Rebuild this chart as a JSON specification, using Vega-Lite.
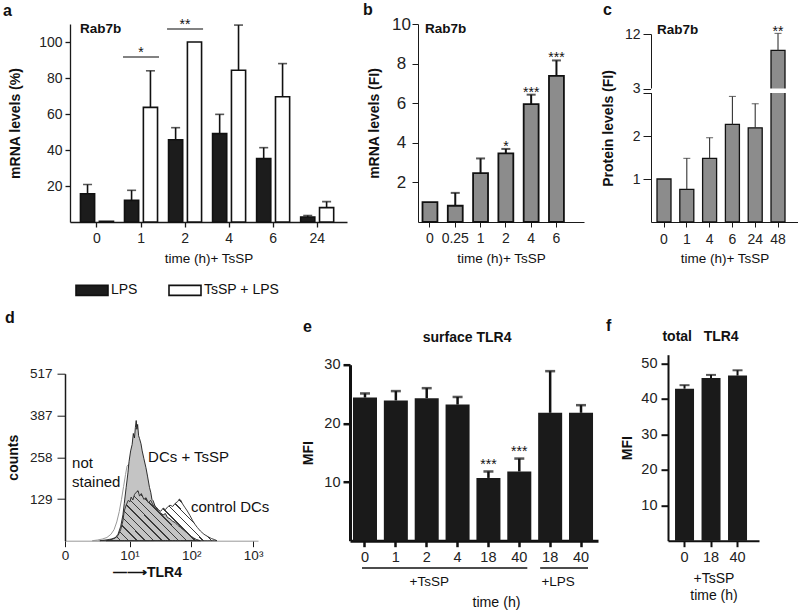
{
"$schema": "https://vega.github.io/schema/vega-lite/v6.json",
"padding": {"left": 3, "top": 2, "right": 0, "bottom": 0},
"config": {
  "font": "Liberation Sans",
  "view": {"stroke": null},
  "axis": {"grid": false, "domainColor": "#1a1a1a", "tickColor": "#1a1a1a", "labelColor": "#222222", "titleColor": "#111111", "labelAngle": 0, "labelOverlap": false, "labelFlush": false, "labelBound": false},
  "title": {"anchor": "start", "frame": "group", "baseline": "alphabetic", "fontSize": 16, "fontWeight": "bold", "color": "#111111"}
},
"datasets": {
  "a": [
    {"time": "0", "series": "LPS", "value": 15.7, "err": 20.8},
    {"time": "0", "series": "TsSP + LPS", "value": 0.4, "err": null},
    {"time": "1", "series": "LPS", "value": 12.0, "err": 17.6},
    {"time": "1", "series": "TsSP + LPS", "value": 63.7, "err": 84},
    {"time": "2", "series": "LPS", "value": 45.7, "err": 52.4},
    {"time": "2", "series": "TsSP + LPS", "value": 100, "err": null},
    {"time": "4", "series": "LPS", "value": 49.1, "err": 59.8},
    {"time": "4", "series": "TsSP + LPS", "value": 84.3, "err": 109.4},
    {"time": "6", "series": "LPS", "value": 35.2, "err": 41.3},
    {"time": "6", "series": "TsSP + LPS", "value": 69.6, "err": 88},
    {"time": "24", "series": "LPS", "value": 2.8, "err": 3.6},
    {"time": "24", "series": "TsSP + LPS", "value": 8.0, "err": 11.3}
  ],
  "aSig": [
    {"time": "1", "level": 91.7, "star": "*"},
    {"time": "2", "level": 107.2, "star": "**"}
  ],
  "b": [
    {"time": "0", "value": 1.0, "err": null, "star": ""},
    {"time": "0.25", "value": 0.82, "err": 1.47, "star": ""},
    {"time": "1", "value": 2.47, "err": 3.21, "star": ""},
    {"time": "2", "value": 3.47, "err": 3.69, "star": "*"},
    {"time": "4", "value": 5.95, "err": 6.43, "star": "***"},
    {"time": "6", "value": 7.38, "err": 8.16, "star": "***"}
  ],
  "c": [
    {"time": "0", "value": 1.0, "err": null, "star": ""},
    {"time": "1", "value": 0.76, "err": 1.48, "star": ""},
    {"time": "4", "value": 1.48, "err": 1.96, "star": ""},
    {"time": "6", "value": 2.27, "err": 2.92, "star": ""},
    {"time": "24", "value": 2.19, "err": 2.75, "star": ""},
    {"time": "48", "value": 9.3, "err": 12.1, "star": "**"}
  ],
  "d": [
    {"sample": "not stained", "tlr4": 2.5, "count": 0},
    {"sample": "not stained", "tlr4": 3, "count": 2},
    {"sample": "not stained", "tlr4": 3.6, "count": 5},
    {"sample": "not stained", "tlr4": 4.3, "count": 10},
    {"sample": "not stained", "tlr4": 5, "count": 20},
    {"sample": "not stained", "tlr4": 5.6, "count": 34},
    {"sample": "not stained", "tlr4": 6.2, "count": 58},
    {"sample": "not stained", "tlr4": 6.8, "count": 90},
    {"sample": "not stained", "tlr4": 7.4, "count": 128},
    {"sample": "not stained", "tlr4": 8, "count": 168},
    {"sample": "not stained", "tlr4": 8.6, "count": 205},
    {"sample": "not stained", "tlr4": 9.1, "count": 231},
    {"sample": "not stained", "tlr4": 9.6, "count": 236},
    {"sample": "not stained", "tlr4": 10.2, "count": 212},
    {"sample": "not stained", "tlr4": 11, "count": 168},
    {"sample": "not stained", "tlr4": 12, "count": 118},
    {"sample": "not stained", "tlr4": 13.5, "count": 70},
    {"sample": "not stained", "tlr4": 15, "count": 40},
    {"sample": "not stained", "tlr4": 17, "count": 20},
    {"sample": "not stained", "tlr4": 20, "count": 8},
    {"sample": "not stained", "tlr4": 24, "count": 0},
    {"sample": "DCs + TsSP", "tlr4": 4.2, "count": 0},
    {"sample": "DCs + TsSP", "tlr4": 5, "count": 3},
    {"sample": "DCs + TsSP", "tlr4": 5.8, "count": 8},
    {"sample": "DCs + TsSP", "tlr4": 6.5, "count": 20},
    {"sample": "DCs + TsSP", "tlr4": 7.2, "count": 45},
    {"sample": "DCs + TsSP", "tlr4": 7.8, "count": 80},
    {"sample": "DCs + TsSP", "tlr4": 8.2, "count": 115},
    {"sample": "DCs + TsSP", "tlr4": 8.8, "count": 165},
    {"sample": "DCs + TsSP", "tlr4": 9.4, "count": 210},
    {"sample": "DCs + TsSP", "tlr4": 9.8, "count": 245},
    {"sample": "DCs + TsSP", "tlr4": 10.4, "count": 278},
    {"sample": "DCs + TsSP", "tlr4": 11, "count": 298},
    {"sample": "DCs + TsSP", "tlr4": 11.5, "count": 332},
    {"sample": "DCs + TsSP", "tlr4": 12, "count": 318},
    {"sample": "DCs + TsSP", "tlr4": 12.4, "count": 350},
    {"sample": "DCs + TsSP", "tlr4": 12.8, "count": 372},
    {"sample": "DCs + TsSP", "tlr4": 13.1, "count": 345},
    {"sample": "DCs + TsSP", "tlr4": 13.5, "count": 360},
    {"sample": "DCs + TsSP", "tlr4": 14, "count": 325},
    {"sample": "DCs + TsSP", "tlr4": 14.5, "count": 316},
    {"sample": "DCs + TsSP", "tlr4": 15.3, "count": 300},
    {"sample": "DCs + TsSP", "tlr4": 16, "count": 278},
    {"sample": "DCs + TsSP", "tlr4": 17, "count": 255},
    {"sample": "DCs + TsSP", "tlr4": 18.4, "count": 226},
    {"sample": "DCs + TsSP", "tlr4": 19.5, "count": 200},
    {"sample": "DCs + TsSP", "tlr4": 21, "count": 165},
    {"sample": "DCs + TsSP", "tlr4": 22, "count": 150},
    {"sample": "DCs + TsSP", "tlr4": 23, "count": 128},
    {"sample": "DCs + TsSP", "tlr4": 24, "count": 124},
    {"sample": "DCs + TsSP", "tlr4": 26, "count": 106},
    {"sample": "DCs + TsSP", "tlr4": 28.5, "count": 95},
    {"sample": "DCs + TsSP", "tlr4": 31, "count": 87},
    {"sample": "DCs + TsSP", "tlr4": 35, "count": 80},
    {"sample": "DCs + TsSP", "tlr4": 38, "count": 84},
    {"sample": "DCs + TsSP", "tlr4": 41, "count": 72},
    {"sample": "DCs + TsSP", "tlr4": 45, "count": 68},
    {"sample": "DCs + TsSP", "tlr4": 50, "count": 60},
    {"sample": "DCs + TsSP", "tlr4": 55, "count": 56},
    {"sample": "DCs + TsSP", "tlr4": 60, "count": 48},
    {"sample": "DCs + TsSP", "tlr4": 67, "count": 41},
    {"sample": "DCs + TsSP", "tlr4": 75, "count": 33},
    {"sample": "DCs + TsSP", "tlr4": 85, "count": 24},
    {"sample": "DCs + TsSP", "tlr4": 95, "count": 16},
    {"sample": "DCs + TsSP", "tlr4": 108, "count": 9},
    {"sample": "DCs + TsSP", "tlr4": 120, "count": 4},
    {"sample": "DCs + TsSP", "tlr4": 140, "count": 0},
    {"sample": "control DCs", "tlr4": 3.3, "count": 0},
    {"sample": "control DCs", "tlr4": 4, "count": 2},
    {"sample": "control DCs", "tlr4": 5, "count": 5},
    {"sample": "control DCs", "tlr4": 6, "count": 10},
    {"sample": "control DCs", "tlr4": 6.5, "count": 16},
    {"sample": "control DCs", "tlr4": 7.2, "count": 35},
    {"sample": "control DCs", "tlr4": 7.8, "count": 62},
    {"sample": "control DCs", "tlr4": 8.2, "count": 92},
    {"sample": "control DCs", "tlr4": 8.8, "count": 110},
    {"sample": "control DCs", "tlr4": 9.5, "count": 125},
    {"sample": "control DCs", "tlr4": 10.1, "count": 120},
    {"sample": "control DCs", "tlr4": 10.6, "count": 135},
    {"sample": "control DCs", "tlr4": 11.3, "count": 126},
    {"sample": "control DCs", "tlr4": 12, "count": 143},
    {"sample": "control DCs", "tlr4": 12.8, "count": 150},
    {"sample": "control DCs", "tlr4": 13.7, "count": 155},
    {"sample": "control DCs", "tlr4": 14.5, "count": 138},
    {"sample": "control DCs", "tlr4": 15.5, "count": 146},
    {"sample": "control DCs", "tlr4": 17, "count": 128},
    {"sample": "control DCs", "tlr4": 18.5, "count": 133},
    {"sample": "control DCs", "tlr4": 20, "count": 118},
    {"sample": "control DCs", "tlr4": 22, "count": 125},
    {"sample": "control DCs", "tlr4": 24, "count": 110},
    {"sample": "control DCs", "tlr4": 27, "count": 104},
    {"sample": "control DCs", "tlr4": 30, "count": 94},
    {"sample": "control DCs", "tlr4": 32, "count": 91},
    {"sample": "control DCs", "tlr4": 35, "count": 101},
    {"sample": "control DCs", "tlr4": 38, "count": 96},
    {"sample": "control DCs", "tlr4": 41, "count": 104},
    {"sample": "control DCs", "tlr4": 45, "count": 110},
    {"sample": "control DCs", "tlr4": 50, "count": 106},
    {"sample": "control DCs", "tlr4": 55, "count": 116},
    {"sample": "control DCs", "tlr4": 60, "count": 121},
    {"sample": "control DCs", "tlr4": 64, "count": 129},
    {"sample": "control DCs", "tlr4": 67, "count": 126},
    {"sample": "control DCs", "tlr4": 72, "count": 114},
    {"sample": "control DCs", "tlr4": 78, "count": 104},
    {"sample": "control DCs", "tlr4": 86, "count": 92},
    {"sample": "control DCs", "tlr4": 95, "count": 78},
    {"sample": "control DCs", "tlr4": 105, "count": 62},
    {"sample": "control DCs", "tlr4": 115, "count": 50},
    {"sample": "control DCs", "tlr4": 125, "count": 41},
    {"sample": "control DCs", "tlr4": 140, "count": 30},
    {"sample": "control DCs", "tlr4": 160, "count": 20},
    {"sample": "control DCs", "tlr4": 180, "count": 14},
    {"sample": "control DCs", "tlr4": 210, "count": 7},
    {"sample": "control DCs", "tlr4": 240, "count": 3},
    {"sample": "control DCs", "tlr4": 260, "count": 0}
  ],
  "e": [
    {"id": "T0", "value": 24.4, "err": 25.1, "star": ""},
    {"id": "T1", "value": 23.9, "err": 25.5, "star": ""},
    {"id": "T2", "value": 24.3, "err": 26.0, "star": ""},
    {"id": "T4", "value": 23.2, "err": 24.5, "star": ""},
    {"id": "T18", "value": 10.7, "err": 11.8, "star": "***"},
    {"id": "T40", "value": 11.8, "err": 14.0, "star": "***"},
    {"id": "L18", "value": 21.8, "err": 28.9, "star": ""},
    {"id": "L40", "value": 21.8, "err": 23.1, "star": ""}
  ],
  "f": [
    {"time": "0", "value": 42.9, "err": 43.9},
    {"time": "18", "value": 45.9, "err": 46.8},
    {"time": "40", "value": 46.6, "err": 48.1}
  ]
},
"concat": [
  {
    "hconcat": [
      {
        "width": 281, "height": 198,
        "title": {"text": "a", "dx": -67, "offset": -0.8},
        "layer": [
          {
            "data": {"name": "a"},
            "mark": {"type": "bar", "stroke": "#111111", "strokeWidth": 1.6},
            "encoding": {
              "x": {"field": "time", "type": "nominal", "sort": null,
                "scale": {"domain": ["0", "1", "2", "4", "6", "24"], "range": [0, 277], "paddingInner": 0.25, "paddingOuter": 0.27, "align": 0.44},
                "axis": {"title": "time (h)+ TsSP", "labelFontSize": 14, "titleFontSize": 13.5, "titleFontWeight": "normal", "tickSize": 5, "labelPadding": 4, "titlePadding": 6, "domainWidth": 1.3, "tickWidth": 1.3}},
              "xOffset": {"field": "series", "type": "nominal", "sort": null, "scale": {"domain": ["LPS", "TsSP + LPS"], "paddingInner": 0.25}},
              "y": {"field": "value", "type": "quantitative",
                "scale": {"domain": [0, 110], "nice": false},
                "axis": {"title": "mRNA levels (%)", "values": [20, 40, 60, 80, 100], "labelFontSize": 14, "titleFontSize": 14, "titleFontWeight": "bold", "tickSize": 5, "labelPadding": 3, "titlePadding": 16, "domainWidth": 1.3, "tickWidth": 1.3}},
              "fill": {"field": "series", "type": "nominal", "sort": null,
                "scale": {"domain": ["LPS", "TsSP + LPS"], "range": ["#1c1c1c", "#ffffff"]},
                "legend": {"orient": "none", "legendX": 11, "legendY": 255, "direction": "horizontal", "title": null, "symbolType": "M-1.6,-0.5H1.6V0.5H-1.6Z", "symbolSize": 400, "symbolStrokeColor": "#111111", "symbolStrokeWidth": 1.6, "labelFontSize": 14, "labelOffset": 8, "columnPadding": 27, "labelColor": "#111111"}}
            }
          },
          {
            "data": {"name": "a"},
            "transform": [{"filter": "datum.err != null"}],
            "mark": {"type": "rule", "color": "#111111", "strokeWidth": 1.6},
            "encoding": {
              "x": {"field": "time", "type": "nominal"},
              "xOffset": {"field": "series", "type": "nominal"},
              "y": {"field": "value", "type": "quantitative"},
              "y2": {"field": "err"}
            }
          },
          {
            "data": {"name": "a"},
            "transform": [{"filter": "datum.err != null"}],
            "mark": {"type": "tick", "color": "#111111", "thickness": 1.6, "size": 9},
            "encoding": {
              "x": {"field": "time", "type": "nominal"},
              "xOffset": {"field": "series", "type": "nominal"},
              "y": {"field": "err", "type": "quantitative"}
            }
          },
          {
            "data": {"name": "aSig"},
            "mark": {"type": "tick", "color": "#111111", "thickness": 1.4, "size": 36},
            "encoding": {
              "x": {"field": "time", "type": "nominal"},
              "y": {"field": "level", "type": "quantitative"}
            }
          },
          {
            "data": {"name": "aSig"},
            "mark": {"type": "text", "fontSize": 14, "baseline": "alphabetic", "color": "#111111"},
            "encoding": {
              "x": {"field": "time", "type": "nominal"},
              "y": {"field": "level", "type": "quantitative"},
              "text": {"field": "star"}
            }
          },
          {
            "data": {"values": [{}]},
            "mark": {"type": "text", "text": "Rab7b", "fontWeight": "bold", "fontSize": 13.5, "align": "left", "dx": -17, "color": "#111111"},
            "encoding": {"x": {"datum": "0"}, "y": {"datum": 107}}
          }
        ]
      },
      {
        "width": 166, "height": 198,
        "title": {"text": "b", "dx": -55, "offset": -3.1},
        "data": {"name": "b"},
        "layer": [
          {
            "mark": {"type": "bar", "fill": "#8c8c8c", "stroke": "#111111", "strokeWidth": 1.8},
            "encoding": {
              "x": {"field": "time", "type": "nominal", "sort": null,
                "scale": {"domain": ["0", "0.25", "1", "2", "4", "6"], "paddingInner": 0.41, "paddingOuter": 0.486, "align": 0.183},
                "axis": {"title": "time (h)+ TsSP", "labelFontSize": 14, "titleFontSize": 13.5, "titleFontWeight": "normal", "tickSize": 5, "labelPadding": 4, "titlePadding": 6}},
              "y": {"field": "value", "type": "quantitative",
                "scale": {"domain": [0, 10], "nice": false},
                "axis": {"title": "mRNA levels (FI)", "values": [2, 4, 6, 8, 10], "labelFontSize": 17, "labelAlign": "center", "tickSize": 6, "labelPadding": 11, "titleFontSize": 14, "titleFontWeight": "bold", "titlePadding": 10.5}}
            }
          },
          {
            "transform": [{"filter": "datum.err != null"}],
            "mark": {"type": "rule", "color": "#111111", "strokeWidth": 2},
            "encoding": {"x": {"field": "time", "type": "nominal"}, "y": {"field": "value", "type": "quantitative"}, "y2": {"field": "err"}}
          },
          {
            "transform": [{"filter": "datum.err != null"}],
            "mark": {"type": "tick", "color": "#111111", "thickness": 2, "size": 9},
            "encoding": {"x": {"field": "time", "type": "nominal"}, "y": {"field": "err", "type": "quantitative"}}
          },
          {
            "transform": [{"filter": "datum.star != ''"}],
            "mark": {"type": "text", "fontSize": 14, "baseline": "alphabetic", "dy": 2, "color": "#111111"},
            "encoding": {"x": {"field": "time", "type": "nominal"}, "y": {"field": "err", "type": "quantitative"}, "text": {"field": "star"}}
          },
          {
            "data": {"values": [{}]},
            "mark": {"type": "text", "text": "Rab7b", "fontWeight": "bold", "fontSize": 13.5, "align": "left", "dx": -5, "color": "#111111"},
            "encoding": {"x": {"datum": "0"}, "y": {"datum": 9.75}}
          }
        ]
      },
      {
        "width": 147, "height": 198,
        "title": {"text": "c", "dx": -48, "offset": 4.6},
        "data": {"name": "c"},
        "layer": [
          {
            "mark": {"type": "bar", "fill": "#8c8c8c", "stroke": "#111111", "strokeWidth": 1.3},
            "encoding": {
              "x": {"field": "time", "type": "nominal", "sort": null,
                "scale": {"domain": ["0", "1", "4", "6", "24", "48"], "paddingInner": 0.386, "paddingOuter": 0.4165, "align": 0.316},
                "axis": {"title": "time (h)+ TsSP", "labelFontSize": 14, "titleFontSize": 13.5, "titleFontWeight": "normal", "tickSize": 5, "labelPadding": 5, "titlePadding": 5}},
              "y": {"field": "value", "type": "quantitative",
                "scale": {"domain": [0, 3, 3.05, 12], "range": [198, 69, 64.5, 10], "nice": false, "zero": false},
                "axis": {"title": "Protein levels (FI)", "values": [1, 2, 3, 3.05, 12], "labelExpr": "datum.value == 3 ? '' : datum.value == 3.05 ? '3' : datum.label", "labelFontSize": 14, "tickSize": 8, "labelPadding": 3, "titleFontSize": 14, "titleFontWeight": "bold", "titlePadding": 9.4}}
            }
          },
          {
            "transform": [{"filter": "datum.err != null"}],
            "mark": {"type": "rule", "color": "#333333", "strokeWidth": 1.1},
            "encoding": {"x": {"field": "time", "type": "nominal"}, "y": {"field": "value", "type": "quantitative"}, "y2": {"field": "err"}}
          },
          {
            "transform": [{"filter": "datum.err != null"}],
            "mark": {"type": "tick", "color": "#333333", "thickness": 1.1, "size": 7},
            "encoding": {"x": {"field": "time", "type": "nominal"}, "y": {"field": "err", "type": "quantitative"}}
          },
          {
            "data": {"values": [{}]},
            "mark": {"type": "rect", "fill": "#ffffff", "xOffset": -1.5},
            "encoding": {"y": {"datum": 3}, "y2": {"datum": 3.05}}
          },
          {
            "transform": [{"filter": "datum.star != ''"}],
            "mark": {"type": "text", "fontSize": 14, "baseline": "alphabetic", "dy": 2.4, "color": "#111111"},
            "encoding": {"x": {"field": "time", "type": "nominal"}, "y": {"field": "err", "type": "quantitative"}, "text": {"field": "star"}}
          },
          {
            "data": {"values": [{}]},
            "mark": {"type": "text", "text": "Rab7b", "fontWeight": "bold", "fontSize": 13.5, "align": "left", "dx": -7, "color": "#111111"},
            "encoding": {"x": {"datum": "0"}, "y": {"datum": 12.65}}
          }
        ]
      }
    ],
    "spacing": 67,
    "bounds": "flush"
  },
  {
    "hconcat": [
      {
        "width": 210, "height": 186,
        "title": {"text": "d", "dx": -65, "offset": 28.8},
        "layer": [
          {
            "data": {"name": "d"},
            "transform": [{"filter": "datum.sample == 'not stained'"}],
            "mark": {"type": "area", "fill": "#ffffff", "stroke": "#999999", "strokeWidth": 1},
            "encoding": {
              "x": {"field": "tlr4", "type": "quantitative",
                "scale": {"type": "log", "domain": [0.9, 1200], "range": [-5, 188], "nice": false},
                "axis": {"title": "—⟶TLR4", "values": [0.9, 10, 100, 1000], "labelExpr": "datum.value < 1 ? '0' : datum.value == 10 ? '10¹' : datum.value == 100 ? '10²' : '10³'", "labelFontSize": 13.5, "tickSize": 6, "labelPadding": 2, "domainColor": "#999999", "titleFontSize": 14, "titleFontWeight": "bold", "titlePadding": 3.5, "titleX": 77, "titleAlign": "center"}},
              "y": {"field": "count", "type": "quantitative",
                "scale": {"domain": [0, 517], "range": [186, 19], "nice": false},
                "axis": {"title": "counts", "offset": 5, "values": [129, 258, 387, 517], "labelFontSize": 13.5, "tickSize": 8, "labelPadding": 5, "domainWidth": 1.5, "titleFontSize": 14, "titleFontWeight": "bold", "titlePadding": 9}}
            }
          },
          {
            "data": {"name": "d"},
            "transform": [{"filter": "datum.sample == 'DCs + TsSP'"}],
            "mark": {"type": "area", "fill": "#c4c4c4", "stroke": "#1a1a1a", "strokeWidth": 0.9},
            "encoding": {"x": {"field": "tlr4", "type": "quantitative"}, "y": {"field": "count", "type": "quantitative"}}
          },
          {
            "data": {"name": "d"},
            "transform": [{"filter": "datum.sample == 'control DCs'"}],
            "mark": {"type": "area", "stroke": "#2a2a2a", "strokeWidth": 0.9,
              "fill": {"gradient": "linear", "x1": 0, "y1": 1, "x2": 1.2, "y2": 0.491, "stops": [
                {"offset": 0, "color": "rgba(0,0,0,0)"},
                {"offset": 0.02, "color": "rgba(0,0,0,0)"}, {"offset": 0.02, "color": "#3a3a3a"}, {"offset": 0.029, "color": "#3a3a3a"}, {"offset": 0.029, "color": "rgba(0,0,0,0)"},
                {"offset": 0.07, "color": "rgba(0,0,0,0)"}, {"offset": 0.07, "color": "#3a3a3a"}, {"offset": 0.079, "color": "#3a3a3a"}, {"offset": 0.079, "color": "rgba(0,0,0,0)"},
                {"offset": 0.12, "color": "rgba(0,0,0,0)"}, {"offset": 0.12, "color": "#3a3a3a"}, {"offset": 0.129, "color": "#3a3a3a"}, {"offset": 0.129, "color": "rgba(0,0,0,0)"},
                {"offset": 0.17, "color": "rgba(0,0,0,0)"}, {"offset": 0.17, "color": "#3a3a3a"}, {"offset": 0.179, "color": "#3a3a3a"}, {"offset": 0.179, "color": "rgba(0,0,0,0)"},
                {"offset": 0.22, "color": "rgba(0,0,0,0)"}, {"offset": 0.22, "color": "#3a3a3a"}, {"offset": 0.229, "color": "#3a3a3a"}, {"offset": 0.229, "color": "rgba(0,0,0,0)"},
                {"offset": 0.27, "color": "rgba(0,0,0,0)"}, {"offset": 0.27, "color": "#3a3a3a"}, {"offset": 0.279, "color": "#3a3a3a"}, {"offset": 0.279, "color": "rgba(0,0,0,0)"},
                {"offset": 0.32, "color": "rgba(0,0,0,0)"}, {"offset": 0.32, "color": "#3a3a3a"}, {"offset": 0.329, "color": "#3a3a3a"}, {"offset": 0.329, "color": "rgba(0,0,0,0)"},
                {"offset": 0.37, "color": "rgba(0,0,0,0)"}, {"offset": 0.37, "color": "#3a3a3a"}, {"offset": 0.379, "color": "#3a3a3a"}, {"offset": 0.379, "color": "rgba(0,0,0,0)"},
                {"offset": 0.42, "color": "rgba(0,0,0,0)"}, {"offset": 0.42, "color": "#3a3a3a"}, {"offset": 0.429, "color": "#3a3a3a"}, {"offset": 0.429, "color": "rgba(0,0,0,0)"},
                {"offset": 0.47, "color": "rgba(0,0,0,0)"}, {"offset": 0.47, "color": "#3a3a3a"}, {"offset": 0.479, "color": "#3a3a3a"}, {"offset": 0.479, "color": "rgba(0,0,0,0)"},
                {"offset": 0.52, "color": "rgba(0,0,0,0)"}, {"offset": 0.52, "color": "#3a3a3a"}, {"offset": 0.529, "color": "#3a3a3a"}, {"offset": 0.529, "color": "rgba(0,0,0,0)"},
                {"offset": 0.57, "color": "rgba(0,0,0,0)"}, {"offset": 0.57, "color": "#3a3a3a"}, {"offset": 0.579, "color": "#3a3a3a"}, {"offset": 0.579, "color": "rgba(0,0,0,0)"},
                {"offset": 0.62, "color": "rgba(0,0,0,0)"}, {"offset": 0.62, "color": "#3a3a3a"}, {"offset": 0.629, "color": "#3a3a3a"}, {"offset": 0.629, "color": "rgba(0,0,0,0)"},
                {"offset": 0.67, "color": "rgba(0,0,0,0)"}, {"offset": 0.67, "color": "#3a3a3a"}, {"offset": 0.679, "color": "#3a3a3a"}, {"offset": 0.679, "color": "rgba(0,0,0,0)"},
                {"offset": 0.72, "color": "rgba(0,0,0,0)"}, {"offset": 0.72, "color": "#3a3a3a"}, {"offset": 0.729, "color": "#3a3a3a"}, {"offset": 0.729, "color": "rgba(0,0,0,0)"},
                {"offset": 0.77, "color": "rgba(0,0,0,0)"}, {"offset": 0.77, "color": "#3a3a3a"}, {"offset": 0.779, "color": "#3a3a3a"}, {"offset": 0.779, "color": "rgba(0,0,0,0)"},
                {"offset": 0.82, "color": "rgba(0,0,0,0)"}, {"offset": 0.82, "color": "#3a3a3a"}, {"offset": 0.829, "color": "#3a3a3a"}, {"offset": 0.829, "color": "rgba(0,0,0,0)"},
                {"offset": 0.87, "color": "rgba(0,0,0,0)"}, {"offset": 0.87, "color": "#3a3a3a"}, {"offset": 0.879, "color": "#3a3a3a"}, {"offset": 0.879, "color": "rgba(0,0,0,0)"},
                {"offset": 0.92, "color": "rgba(0,0,0,0)"}, {"offset": 0.92, "color": "#3a3a3a"}, {"offset": 0.929, "color": "#3a3a3a"}, {"offset": 0.929, "color": "rgba(0,0,0,0)"},
                {"offset": 0.97, "color": "rgba(0,0,0,0)"}, {"offset": 0.97, "color": "#3a3a3a"}, {"offset": 0.979, "color": "#3a3a3a"}, {"offset": 0.979, "color": "rgba(0,0,0,0)"},
                {"offset": 1, "color": "rgba(0,0,0,0)"}
              ]}},
            "encoding": {"x": {"field": "tlr4", "type": "quantitative"}, "y": {"field": "count", "type": "quantitative"}}
          },
          {
            "data": {"values": [{}]},
            "mark": {"type": "text", "text": ["not", "stained"], "fontSize": 15, "align": "left", "baseline": "alphabetic", "lineHeight": 19, "color": "#111111"},
            "encoding": {"x": {"datum": 1.17}, "y": {"datum": 225}}
          },
          {
            "data": {"values": [{}]},
            "mark": {"type": "text", "text": "DCs + TsSP", "fontSize": 15, "align": "left", "baseline": "alphabetic", "color": "#111111"},
            "encoding": {"x": {"datum": 19.9}, "y": {"datum": 243}}
          },
          {
            "data": {"values": [{}]},
            "mark": {"type": "text", "text": "control DCs", "fontSize": 15, "align": "left", "baseline": "alphabetic", "color": "#111111"},
            "encoding": {"x": {"datum": 98.7}, "y": {"datum": 88.5}}
          }
        ]
      },
      {
        "width": 248, "height": 186,
        "title": {"text": "e", "dx": -47, "offset": -4.5},
        "layer": [
          {
            "data": {"name": "e"},
            "mark": {"type": "bar", "fill": "#1a1a1a"},
            "encoding": {
              "x": {"field": "id", "type": "nominal", "sort": null,
                "scale": {"domain": ["T0", "T1", "T2", "T4", "T18", "T40", "L18", "L40"], "paddingInner": 0.222, "paddingOuter": 0.129, "align": 0.375},
                "axis": {"title": "time (h)", "labelExpr": "slice(datum.label, 1)", "labelFontSize": 14.5, "tickSize": 6, "labelPadding": 3.7, "tickWidth": 2.5, "domainWidth": 3, "domainColor": "#111111", "tickColor": "#111111", "titleFontSize": 14.2, "titleFontWeight": "normal", "titlePadding": 32, "titleX": 146, "titleAlign": "center"}},
              "y": {"field": "value", "type": "quantitative",
                "scale": {"domain": [0, 30], "range": [186, 10], "nice": false},
                "axis": {"title": "MFI", "values": [10, 20, 30], "labelFontSize": 14.5, "tickSize": 7, "labelPadding": 3, "tickWidth": 2.5, "domainWidth": 3, "domainColor": "#111111", "tickColor": "#111111", "titleFontSize": 14, "titleFontWeight": "bold", "titlePadding": 8.5}}
            }
          },
          {
            "data": {"name": "e"},
            "mark": {"type": "rule", "color": "#111111", "strokeWidth": 2.5},
            "encoding": {"x": {"field": "id", "type": "nominal"}, "y": {"field": "value", "type": "quantitative"}, "y2": {"field": "err"}}
          },
          {
            "data": {"name": "e"},
            "mark": {"type": "tick", "color": "#111111", "thickness": 2.5, "size": 10},
            "encoding": {"x": {"field": "id", "type": "nominal"}, "y": {"field": "err", "type": "quantitative"}}
          },
          {
            "data": {"name": "e"},
            "transform": [{"filter": "datum.star != ''"}],
            "mark": {"type": "text", "fontSize": 14, "baseline": "alphabetic", "dy": -2.5, "color": "#111111"},
            "encoding": {"x": {"field": "id", "type": "nominal"}, "y": {"field": "err", "type": "quantitative"}, "text": {"field": "star"}}
          },
          {
            "data": {"values": [{}]},
            "mark": {"type": "rule", "color": "#111111", "strokeWidth": 1.6, "xOffset": -3, "x2Offset": 8},
            "encoding": {"x": {"datum": "T0"}, "x2": {"datum": "T40"}, "y": {"datum": -4.65}}
          },
          {
            "data": {"values": [{}]},
            "mark": {"type": "rule", "color": "#111111", "strokeWidth": 1.6, "xOffset": -10, "x2Offset": 7},
            "encoding": {"x": {"datum": "L18"}, "x2": {"datum": "L40"}, "y": {"datum": -4.65}}
          },
          {
            "data": {"values": [{}]},
            "mark": {"type": "text", "text": "+TsSP", "fontSize": 13.5, "dx": 2.5, "color": "#111111"},
            "encoding": {"x": {"datum": "T2"}, "y": {"datum": -7.04}}
          },
          {
            "data": {"values": [{}]},
            "mark": {"type": "text", "text": "+LPS", "fontSize": 13.5, "dx": 8, "color": "#111111"},
            "encoding": {"x": {"datum": "L18"}, "y": {"datum": -7.04}}
          },
          {
            "data": {"values": [{}]},
            "mark": {"type": "text", "text": "surface TLR4", "fontSize": 14, "fontWeight": "bold", "dx": 9.5, "color": "#111111"},
            "encoding": {"x": {"datum": "T4"}, "y": {"datum": 34.6}}
          }
        ]
      },
      {
        "width": 91, "height": 186,
        "title": {"text": "f", "dx": -62, "offset": -4.7},
        "layer": [
          {
            "data": {"name": "f"},
            "mark": {"type": "bar", "fill": "#1a1a1a"},
            "encoding": {
              "x": {"field": "time", "type": "nominal", "sort": null,
                "scale": {"domain": ["0", "18", "40"], "paddingInner": 0.283, "paddingOuter": 0.3585, "align": 0.37},
                "axis": {"title": ["+TsSP", "time (h)"], "labelFontSize": 14.5, "tickSize": 6, "labelPadding": 3.7, "tickWidth": 2, "domainWidth": 2, "domainColor": "#111111", "tickColor": "#111111", "titleFontSize": 14, "titleFontWeight": "normal", "titlePadding": 7.6, "titleLineHeight": 16.7}},
              "y": {"field": "value", "type": "quantitative",
                "scale": {"domain": [0, 52.5], "nice": false},
                "axis": {"title": "MFI", "values": [10, 20, 30, 40, 50], "labelFontSize": 14.5, "tickSize": 7, "labelPadding": 4, "tickWidth": 2, "domainWidth": 2, "domainColor": "#111111", "tickColor": "#111111", "titleFontSize": 14, "titleFontWeight": "bold", "titlePadding": 6}}
            }
          },
          {
            "data": {"name": "f"},
            "mark": {"type": "rule", "color": "#111111", "strokeWidth": 2},
            "encoding": {"x": {"field": "time", "type": "nominal"}, "y": {"field": "value", "type": "quantitative"}, "y2": {"field": "err"}}
          },
          {
            "data": {"name": "f"},
            "mark": {"type": "tick", "color": "#111111", "thickness": 2, "size": 10},
            "encoding": {"x": {"field": "time", "type": "nominal"}, "y": {"field": "err", "type": "quantitative"}}
          },
          {
            "data": {"values": [{}]},
            "mark": {"type": "text", "text": "total\u00a0\u00a0\u00a0TLR4", "fontSize": 14, "fontWeight": "bold", "dx": 16, "color": "#111111"},
            "encoding": {"x": {"datum": "0"}, "y": {"datum": 57.6}}
          }
        ]
      }
    ],
    "spacing": 70,
    "bounds": "flush"
  }
],
"columns": 1,
"align": "none",
"spacing": 44.7
}
